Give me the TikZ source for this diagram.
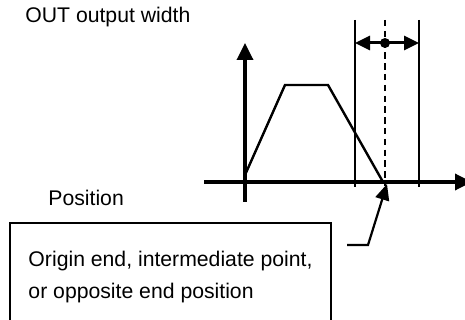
\documentclass[tikz,border=0pt]{standalone}
\usepackage{fontspec}
\setmainfont{Liberation Sans}
\usetikzlibrary{arrows.meta}

\begin{document}
\begin{tikzpicture}[
    x=0.5pt, y=-0.5pt,
    font=\fontsize{10.6}{16}\selectfont,
    >={Triangle[length=8.5pt, width=8pt]},
    axis/.style   = {line width=1.7pt},
    guide/.style  = {line width=1pt},
    dashguide/.style = {guide, line width=1.1pt, dash pattern=on 3.2pt off 2.2pt},
    span/.style   = {line width=1.5pt, {Triangle[length=7.5pt, width=7pt]}-{Triangle[length=7.5pt, width=7pt]}},
    pointer/.style = {line width=1.1pt, -{Triangle[length=8pt, width=7pt]}},
    dot/.style    = {circle, fill, inner sep=0pt, minimum size=5pt},
    label/.style  = {anchor=west, inner sep=0pt},
    note/.style   = {draw, line width=1pt, anchor=north west, align=left,
                     minimum width=160.5pt, minimum height=54pt, inner xsep=9pt}
]
\useasboundingbox (0,0) rectangle (465,320);

% AXES
\coordinate (o)    at (245,182);
\coordinate (ytop) at (245,43);
\coordinate (ybot) at (245,202);
\coordinate (xl)   at (204,182);
\coordinate (xr)   at (472,182);
\draw[axis, ->] (ybot) -- (ytop);
\draw[axis, ->] (xl) -- (xr);

% OUTPUT PROFILE
\coordinate (p0) at (245,175);
\coordinate (p1) at (285,85);
\coordinate (p2) at (328,85);
\coordinate (p3) at (383,182);
\draw[guide, line width=1.2pt] (p0) -- (p1) -- (p2) -- (p3);

% OUTPUT WIDTH
\coordinate (gl) at (355,20);
\coordinate (gr) at (419,20);
\draw[guide] (gl) -- (355,187);
\draw[guide] (gr) -- (419,187);
\draw[dashguide] (385,20) -- (385,186);
\draw[span] (355,43) -- (419,43);
\node[dot] (mid) at (385,43) {};

% LABELS
\node[label] (title) at (25,17) {OUT output width};
\node[label] (pos)   at (48,198) {Position};
\node[note] (box) at (9,222) {Origin end, intermediate point,\\or opposite end position};

% POINTER
\coordinate (lead) at (347,245);
\coordinate (hit)  at (387,184);
\draw[pointer] (lead) -- (368,245) -- (hit);

\end{tikzpicture}
\end{document}
